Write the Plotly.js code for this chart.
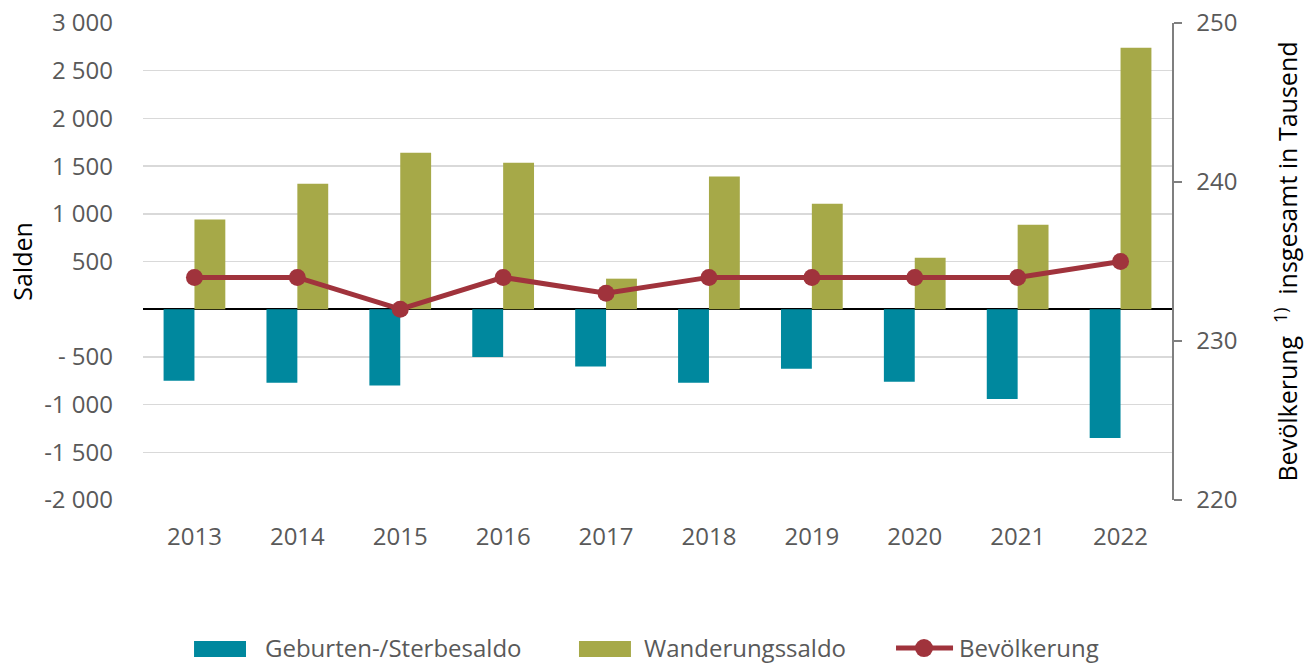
<!DOCTYPE html>
<html><head><meta charset="utf-8">
<script src="https://cdn.plot.ly/plotly-3.0.1.min.js"></script>
<style>html,body{margin:0;padding:0;background:#fff;}#chart{width:1315px;height:664px;}</style>
</head><body><div id="chart"></div>
<script>
const years = ['2013','2014','2015','2016','2017','2018','2019','2020','2021','2022'];
const geburtenSterbesaldo = [-750, -770, -800, -500, -600, -770, -625, -760, -940, -1350];
const wanderungssaldo = [940, 1315, 1640, 1535, 320, 1390, 1105, 540, 885, 2740];
const bevoelkerung = [234, 234, 232, 234, 233, 234, 234, 234, 234, 235];
const leftTickVals = [-2000, -1500, -1000, -500, 500, 1000, 1500, 2000, 2500, 3000];
const leftTickText = ['-2 000', '-1 500', '-1 000', '- 500', '500', '1 000', '1 500', '2 000', '2 500', '3 000'];
const rightTickVals = [220, 230, 240, 250];
const seriesNames = ['Geburten-/Sterbesaldo', 'Wanderungssaldo', 'Bevölkerung'];
const seriesColors = ['#00889e', '#a6a948', '#a0333c'];

const FONT = 'Open Sans, Noto Sans, sans-serif';
const GREY = '#595959';
const traces = [
  {type:'bar', name:seriesNames[0], x:years, y:geburtenSterbesaldo, marker:{color:seriesColors[0]}, yaxis:'y'},
  {type:'bar', name:seriesNames[1], x:years, y:wanderungssaldo, marker:{color:seriesColors[1]}, yaxis:'y'},
  {type:'scatter', mode:'lines+markers', name:seriesNames[2], x:years, y:bevoelkerung, yaxis:'y2',
   line:{color:seriesColors[2], width:5}, marker:{color:seriesColors[2], size:17}}
];

// manual legend (larger swatches like the reference)
const LY = -0.3082;
const shapes = [
  {type:'rect', xref:'paper', yref:'paper', x0:0.0496, x1:0.1001, y0:-0.3291, y1:-0.2956, fillcolor:seriesColors[0], line:{width:0}},
  {type:'rect', xref:'paper', yref:'paper', x0:0.4237, x1:0.4742, y0:-0.3291, y1:-0.2956, fillcolor:seriesColors[1], line:{width:0}},
  {type:'line', xref:'paper', yref:'paper', x0:0.7318, x1:0.7872, y0:-0.3103, y1:-0.3103, line:{color:seriesColors[2], width:5}},
  {type:'circle', xref:'paper', yref:'paper', xsizemode:'pixel', ysizemode:'pixel', xanchor:0.759, yanchor:-0.3103,
   x0:-9, x1:9, y0:-9, y1:9, fillcolor:seriesColors[2], line:{width:0}}
];
const annotations = seriesNames.map((n, i) => ({
  xref:'paper', yref:'paper', x:[0.1176, 0.4859, 0.7920][i], y:LY, xanchor:'left', yanchor:'middle',
  showarrow:false, borderpad:0, text:n, font:{size:24, color:GREY}
}));

const layout = {
  width:1315, height:664,
  margin:{l:143, r:143, t:23, b:164},
  paper_bgcolor:'#fff', plot_bgcolor:'#fff',
  font:{family:FONT, size:24, color:GREY},
  barmode:'group', bargap:0.4, bargroupgap:0,
  showlegend:false,
  shapes:shapes, annotations:annotations,
  xaxis:{type:'category', range:[-0.5, 9.5], showgrid:false, ticks:'', ticklabelstandoff:20, automargin:false,
         tickfont:{size:24, color:GREY}, showline:false},
  yaxis:{range:[-2000,3000], tickvals:leftTickVals, ticktext:leftTickText, automargin:false,
         showgrid:true, gridcolor:'#d9d9d9', gridwidth:1.5,
         zeroline:true, zerolinecolor:'#000', zerolinewidth:2,
         showline:false, ticks:'', ticklabelstandoff:29,
         tickfont:{size:24, color:GREY},
         title:{text:'Salden', font:{size:25, color:'#000'}, standoff:4}},
  yaxis2:{range:[220,250], overlaying:'y', side:'right', tickvals:rightTickVals, automargin:false,
          showgrid:false, zeroline:false, showline:true, linecolor:'#7f7f7f', linewidth:1.5,
          ticks:'outside', ticklen:8, tickcolor:'#7f7f7f', tickwidth:1.5, ticklabelstandoff:10,
          tickfont:{size:24, color:GREY},
          title:{text:'Bevölkerung  <sup>1)</sup>  insgesamt in Tausend', font:{size:25, color:'#000'}, standoff:43}}
};
Plotly.newPlot('chart', traces, layout, {displayModeBar:false, staticPlot:true});
</script></body></html>
